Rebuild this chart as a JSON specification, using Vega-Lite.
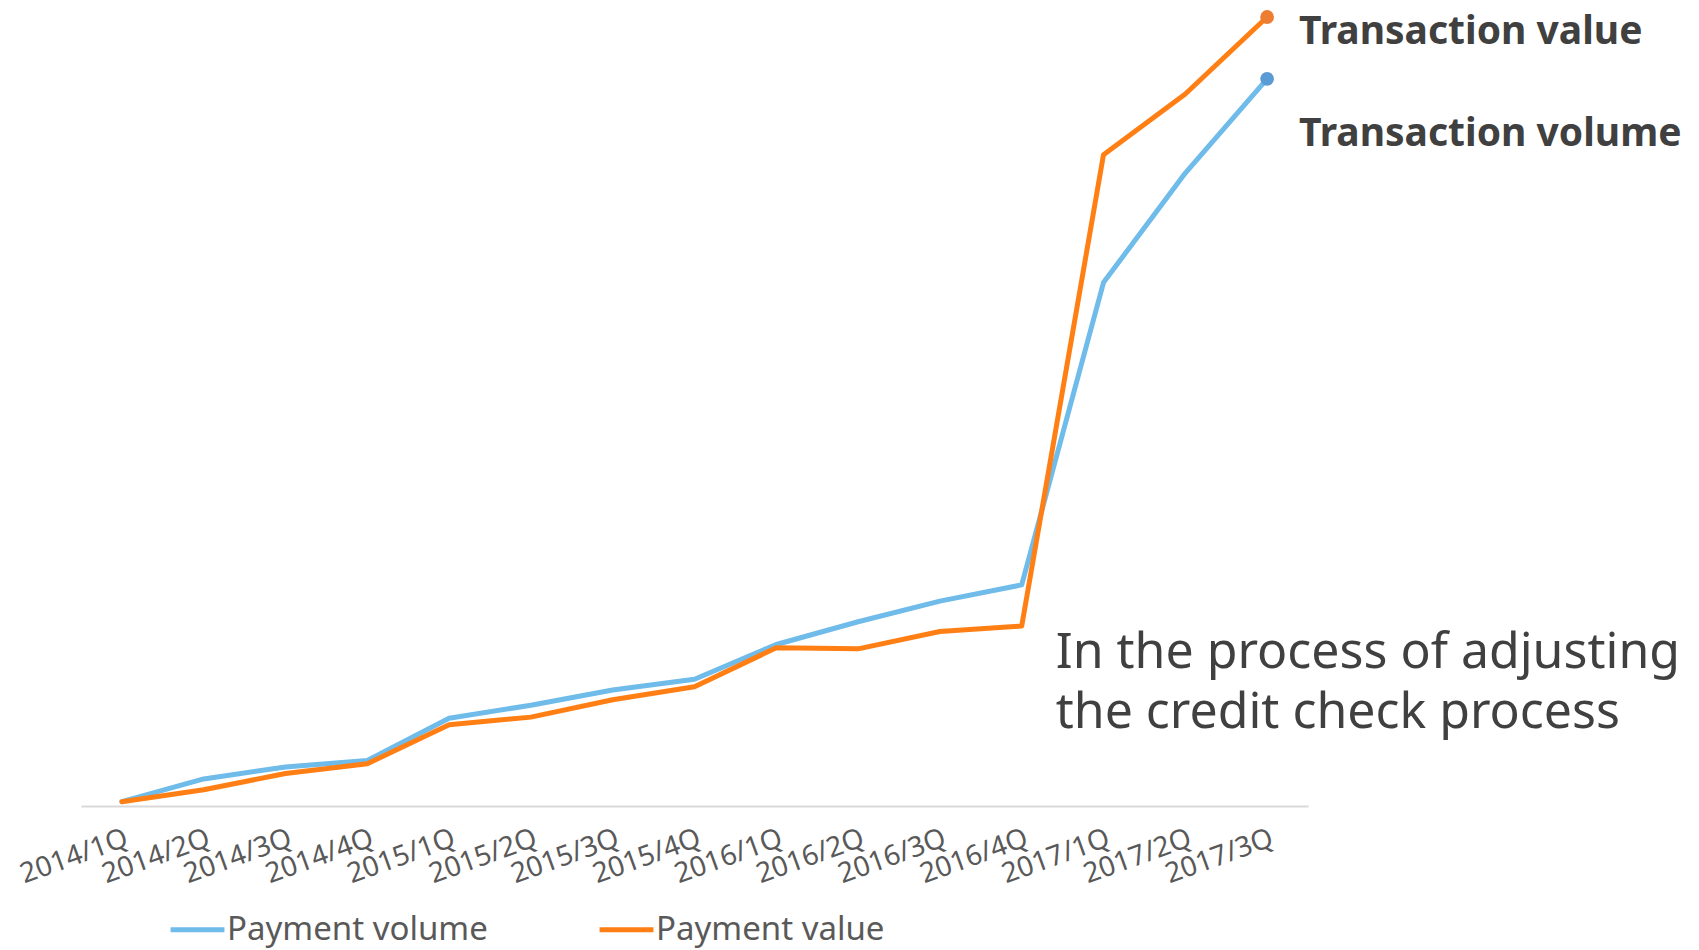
{
  "$schema": "https://vega.github.io/schema/vega-lite/v6.json",
  "width": 1227,
  "height": 802,
  "autosize": {"type": "none"},
  "padding": {"left": 81, "top": 4, "right": 391, "bottom": 144},
  "background": "white",
  "config": {"view": {"stroke": null}, "font": "Noto Sans"},
  "datasets": {
    "series": [
      {"q": "2014/1Q", "series": "Payment volume", "v": 4},
      {"q": "2014/2Q", "series": "Payment volume", "v": 25},
      {"q": "2014/3Q", "series": "Payment volume", "v": 36},
      {"q": "2014/4Q", "series": "Payment volume", "v": 42},
      {"q": "2015/1Q", "series": "Payment volume", "v": 81},
      {"q": "2015/2Q", "series": "Payment volume", "v": 93},
      {"q": "2015/3Q", "series": "Payment volume", "v": 107},
      {"q": "2015/4Q", "series": "Payment volume", "v": 117},
      {"q": "2016/1Q", "series": "Payment volume", "v": 149},
      {"q": "2016/2Q", "series": "Payment volume", "v": 170},
      {"q": "2016/3Q", "series": "Payment volume", "v": 189},
      {"q": "2016/4Q", "series": "Payment volume", "v": 204},
      {"q": "2017/1Q", "series": "Payment volume", "v": 483},
      {"q": "2017/2Q", "series": "Payment volume", "v": 584},
      {"q": "2017/3Q", "series": "Payment volume", "v": 671},
      {"q": "2014/1Q", "series": "Payment value", "v": 4},
      {"q": "2014/2Q", "series": "Payment value", "v": 15},
      {"q": "2014/3Q", "series": "Payment value", "v": 30},
      {"q": "2014/4Q", "series": "Payment value", "v": 39},
      {"q": "2015/1Q", "series": "Payment value", "v": 75},
      {"q": "2015/2Q", "series": "Payment value", "v": 82},
      {"q": "2015/3Q", "series": "Payment value", "v": 98},
      {"q": "2015/4Q", "series": "Payment value", "v": 110},
      {"q": "2016/1Q", "series": "Payment value", "v": 146},
      {"q": "2016/2Q", "series": "Payment value", "v": 145},
      {"q": "2016/3Q", "series": "Payment value", "v": 161},
      {"q": "2016/4Q", "series": "Payment value", "v": 166},
      {"q": "2017/1Q", "series": "Payment value", "v": 601},
      {"q": "2017/2Q", "series": "Payment value", "v": 657},
      {"q": "2017/3Q", "series": "Payment value", "v": 728}
    ],
    "ends": [
      {"q": "2017/3Q", "series": "Payment value", "v": 728, "label": "Transaction value"},
      {"q": "2017/3Q", "series": "Payment volume", "v": 671, "label": "Transaction volume"}
    ],
    "note": [
      {"q": "2016/4Q", "v": 127, "text": ["In the process of adjusting", "the credit check process"]}
    ]
  },
  "encoding": {
    "x": {
      "field": "q", "type": "ordinal", "sort": null,
      "scale": {"type": "point", "padding": 0.5},
      "axis": {
        "title": null, "ticks": false, "domainColor": "#D9D9D9", "domainWidth": 2,
        "labelAngle": -20, "labelAlign": "right", "labelBaseline": "top",
        "labelPadding": 18, "labelFontSize": 28, "labelColor": "#595959", "labelFont": "Noto Sans",
        "labelOverlap": false, "labelBound": false, "labelFlush": false,
        "grid": false
      }
    },
    "y": {
      "field": "v", "type": "quantitative",
      "scale": {"domain": [0, 740], "nice": false, "zero": true},
      "axis": null
    }
  },
  "layer": [
    {
      "data": {"name": "series"},
      "mark": {"type": "line", "strokeWidth": 5, "strokeJoin": "round", "strokeCap": "round"},
      "encoding": {
        "color": {
          "field": "series", "type": "nominal",
          "scale": {"domain": ["Payment volume", "Payment value"], "range": ["#6FBBE9", "#FF7F14"]},
          "legend": {
            "title": null, "orient": "none", "direction": "horizontal",
            "legendX": 87, "legendY": 896,
            "symbolType": "stroke", "symbolStrokeWidth": 5, "symbolSize": 2900,
            "labelFontSize": 33, "labelColor": "#595959", "labelFont": "Noto Sans",
            "labelLimit": 0, "labelOffset": 0, "columnPadding": 101
          }
        }
      }
    },
    {
      "data": {"name": "ends"},
      "transform": [{"filter": "datum.series === 'Payment value'"}],
      "layer": [
        {"mark": {"type": "point", "filled": true, "size": 190, "color": "#ED7D31", "opacity": 1}},
        {"mark": {"type": "text", "align": "left", "baseline": "middle", "dx": 32, "dy": 15, "fontSize": 39, "fontWeight": "bold", "color": "#404040", "font": "Noto Sans"},
         "encoding": {"text": {"field": "label"}}}
      ]
    },
    {
      "data": {"name": "ends"},
      "transform": [{"filter": "datum.series === 'Payment volume'"}],
      "layer": [
        {"mark": {"type": "point", "filled": true, "size": 190, "color": "#5B9BD5", "opacity": 1}},
        {"mark": {"type": "text", "align": "left", "baseline": "middle", "dx": 32, "dy": 55, "fontSize": 39, "fontWeight": "bold", "color": "#404040", "font": "Noto Sans"},
         "encoding": {"text": {"field": "label"}}}
      ]
    },
    {
      "data": {"name": "note"},
      "mark": {"type": "text", "align": "left", "baseline": "alphabetic", "dx": 34, "fontSize": 50, "lineHeight": 60, "color": "#404040", "font": "Noto Sans"},
      "encoding": {"text": {"field": "text"}}
    }
  ]
}
